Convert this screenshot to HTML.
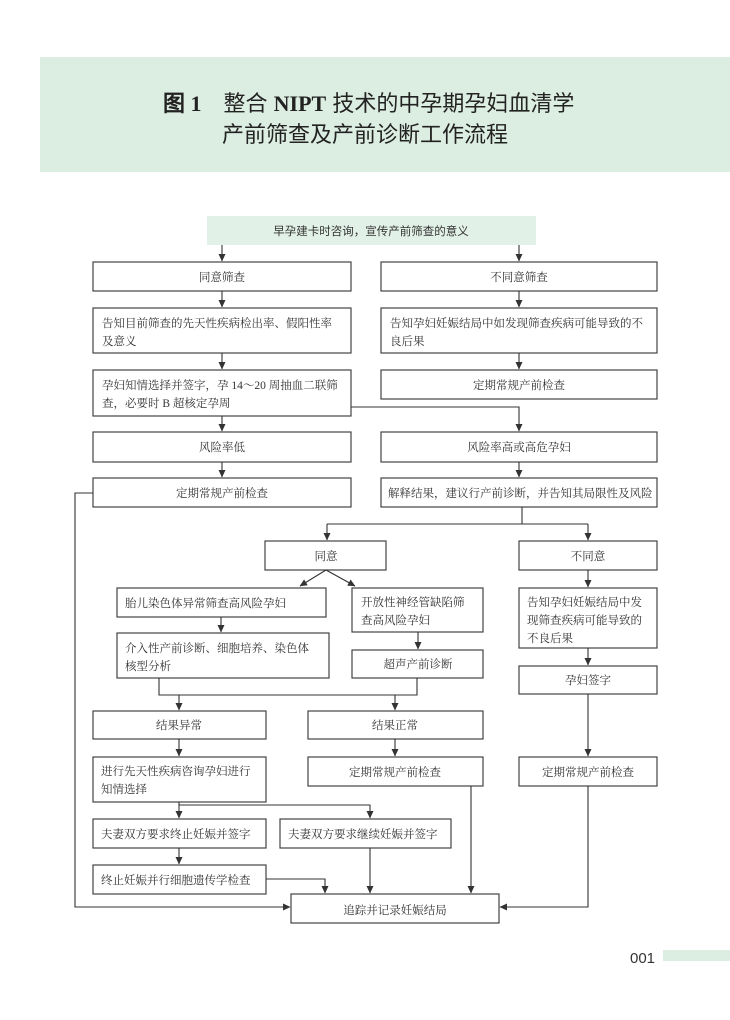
<!DOCTYPE html>
<html><head><meta charset="utf-8"><style>
html,body{margin:0;padding:0;background:#fff;}
svg{display:block;}
.t{font-family:"Liberation Serif","Noto Serif CJK SC",serif;font-size:11.5px;fill:#333;}
.h{font-family:"Liberation Sans","Noto Sans CJK SC",sans-serif;font-size:22px;fill:#222;}
</style></head><body>
<svg width="730" height="1020" viewBox="0 0 730 1020" xmlns="http://www.w3.org/2000/svg">
<defs><marker id="a" markerWidth="8" markerHeight="8" refX="7" refY="4" orient="auto" markerUnits="userSpaceOnUse"><path d="M0,0.5 L7.5,4 L0,7.5 Z" fill="#333"/></marker></defs>
<rect x="40" y="57" width="690" height="115" fill="#dcede2"/>
<text class="h" x="163" y="111"><tspan font-family="Liberation Serif,serif" font-weight="bold">图 1</tspan><tspan dx="22">整合 </tspan><tspan font-family="Liberation Serif,serif" font-weight="bold">NIPT</tspan><tspan> 技术的中孕期孕妇血清学</tspan></text>
<text class="h" x="222" y="142">产前筛查及产前诊断工作流程</text>

<g stroke="#444" stroke-width="1.2" fill="#fff">
<rect x="207" y="216" width="329" height="29" fill="#e2f1e8" stroke="none"/>
<rect x="93" y="262" width="258" height="29"/><rect x="381" y="262" width="276" height="29"/>
<rect x="93" y="308" width="258" height="45"/><rect x="381" y="308" width="276" height="45"/>
<rect x="93" y="370" width="258" height="46"/><rect x="381" y="370" width="276" height="29"/>
<rect x="93" y="432" width="258" height="30"/><rect x="381" y="432" width="276" height="30"/>
<rect x="93" y="478" width="258" height="29"/><rect x="381" y="478" width="276" height="29"/>
<rect x="265" y="541" width="121" height="29"/><rect x="519" y="541" width="138" height="29"/>
<rect x="117" y="588" width="209" height="29"/><rect x="352" y="588" width="131" height="44"/><rect x="519" y="588" width="138" height="60"/>
<rect x="117" y="633" width="212" height="45"/><rect x="352" y="650" width="131" height="28"/><rect x="519" y="666" width="138" height="28"/>
<rect x="93" y="711" width="173" height="28"/><rect x="308" y="711" width="175" height="28"/>
<rect x="93" y="757" width="173" height="45"/><rect x="308" y="757" width="175" height="29"/><rect x="519" y="757" width="138" height="29"/>
<rect x="93" y="819" width="173" height="29"/><rect x="280" y="819" width="171" height="29"/>
<rect x="93" y="865" width="173" height="29"/><rect x="291" y="894" width="208" height="29"/>
</g>
<g stroke="#333" stroke-width="1.1" fill="none">
<path d="M222 245V261" marker-end="url(#a)"/><path d="M519 245V261" marker-end="url(#a)"/>
<path d="M222 291V307" marker-end="url(#a)"/><path d="M519 291V307" marker-end="url(#a)"/>
<path d="M222 353V369" marker-end="url(#a)"/><path d="M519 353V369" marker-end="url(#a)"/>
<path d="M222 416V431" marker-end="url(#a)"/><path d="M351 407H519V431" marker-end="url(#a)"/>
<path d="M222 462V477" marker-end="url(#a)"/><path d="M519 462V477" marker-end="url(#a)"/>
<path d="M522 507V524"/><path d="M327 524H588"/><path d="M327 524V540" marker-end="url(#a)"/><path d="M588 524V540" marker-end="url(#a)"/>
<path d="M326 570L300 586" marker-end="url(#a)"/><path d="M326 570L355 586" marker-end="url(#a)"/>
<path d="M221 617V632" marker-end="url(#a)"/><path d="M418 632V649" marker-end="url(#a)"/><path d="M588 570V587" marker-end="url(#a)"/>
<path d="M588 648V665" marker-end="url(#a)"/><path d="M588 694V756" marker-end="url(#a)"/>
<path d="M159 678V695H417V678"/><path d="M179 695V710" marker-end="url(#a)"/><path d="M395 695V710" marker-end="url(#a)"/>
<path d="M179 739V756" marker-end="url(#a)"/><path d="M395 739V756" marker-end="url(#a)"/>
<path d="M179 802V818" marker-end="url(#a)"/><path d="M179 805H370V818" marker-end="url(#a)"/>
<path d="M179 848V864" marker-end="url(#a)"/>
<path d="M266 879H325V893" marker-end="url(#a)"/>
<path d="M370 848V893" marker-end="url(#a)"/><path d="M471 786V893" marker-end="url(#a)"/>
<path d="M588 786V907H500" marker-end="url(#a)"/>
<path d="M93 493H75V907H290" marker-end="url(#a)"/>
</g>
<g class="t">
<text x="371" y="235" text-anchor="middle" font-family="Liberation Sans,Noto Sans CJK SC,sans-serif" font-size="11.5">早孕建卡时咨询，宣传产前筛查的意义</text>
<text x="222" y="281" text-anchor="middle">同意筛查</text><text x="519" y="281" text-anchor="middle">不同意筛查</text>
<text x="102" y="327">告知目前筛查的先天性疾病检出率、假阳性率</text><text x="102" y="345">及意义</text>
<text x="390" y="327">告知孕妇妊娠结局中如发现筛查疾病可能导致的不</text><text x="390" y="345">良后果</text>
<text x="102" y="389">孕妇知情选择并签字，孕 14～20 周抽血二联筛</text><text x="102" y="407">查，必要时 B 超核定孕周</text>
<text x="519" y="389" text-anchor="middle">定期常规产前检查</text>
<text x="222" y="451" text-anchor="middle">风险率低</text><text x="519" y="451" text-anchor="middle">风险率高或高危孕妇</text>
<text x="222" y="497" text-anchor="middle">定期常规产前检查</text><text x="388" y="497">解释结果，建议行产前诊断，并告知其局限性及风险</text>
<text x="326" y="560" text-anchor="middle">同意</text><text x="588" y="560" text-anchor="middle">不同意</text>
<text x="125" y="607">胎儿染色体异常筛查高风险孕妇</text>
<text x="361" y="606">开放性神经管缺陷筛</text><text x="361" y="624">查高风险孕妇</text>
<text x="527" y="606">告知孕妇妊娠结局中发</text><text x="527" y="624">现筛查疾病可能导致的</text><text x="527" y="642">不良后果</text>
<text x="125" y="652">介入性产前诊断、细胞培养、染色体</text><text x="125" y="670">核型分析</text>
<text x="418" y="668" text-anchor="middle">超声产前诊断</text><text x="588" y="684" text-anchor="middle">孕妇签字</text>
<text x="179" y="729" text-anchor="middle">结果异常</text><text x="395" y="729" text-anchor="middle">结果正常</text>
<text x="101" y="775">进行先天性疾病咨询孕妇进行</text><text x="101" y="793">知情选择</text>
<text x="395" y="776" text-anchor="middle">定期常规产前检查</text><text x="588" y="776" text-anchor="middle">定期常规产前检查</text>
<text x="101" y="838">夫妻双方要求终止妊娠并签字</text><text x="288" y="838">夫妻双方要求继续妊娠并签字</text>
<text x="101" y="884">终止妊娠并行细胞遗传学检查</text>
<text x="395" y="914" text-anchor="middle">追踪并记录妊娠结局</text>
</g>
<text x="630" y="963" font-family="Liberation Sans,sans-serif" font-size="15" fill="#333">001</text>
<rect x="663" y="950" width="67" height="11" fill="#dcede2"/>
</svg>
</body></html>
